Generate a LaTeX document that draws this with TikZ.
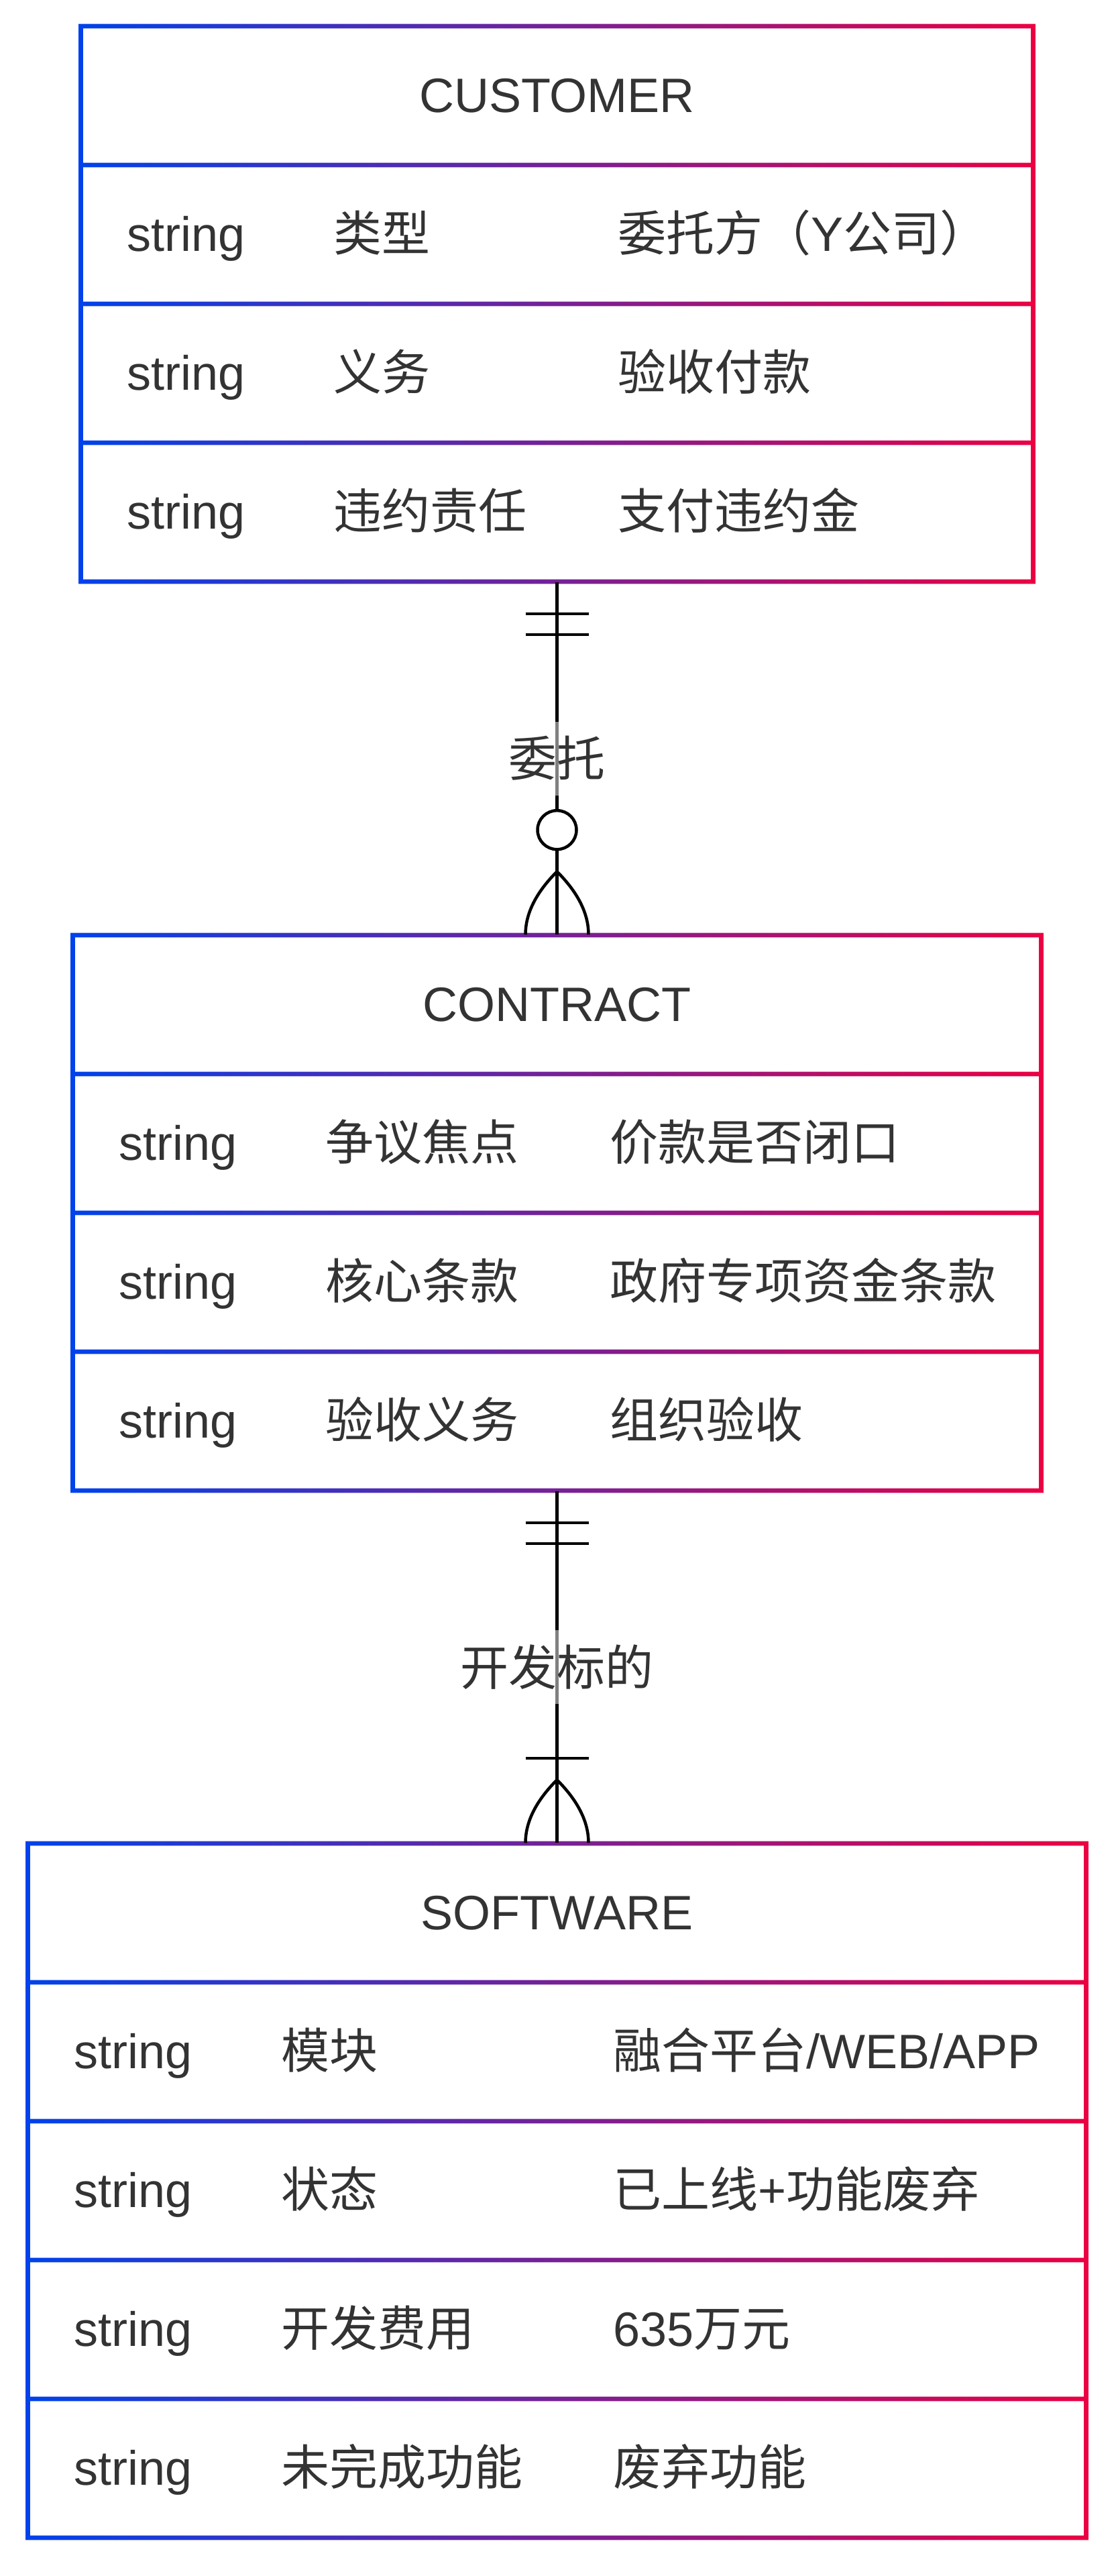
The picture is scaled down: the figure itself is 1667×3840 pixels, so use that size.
\documentclass[tikz,border=0pt]{standalone}
\usepackage{fontspec}
\setmainfont{Liberation Sans}
\newfontfamily\cjk{Noto Sans CJK SC}
\usetikzlibrary{calc}
\definecolor{gs}{HTML}{0042EB}
\definecolor{ge}{HTML}{EB0042}
\definecolor{txt}{HTML}{333333}
\tikzset{
  cell/.style={anchor=base west, inner sep=0pt, text=txt, font=\fontsize{18pt}{21pt}\selectfont},
  head/.style={anchor=base, inner sep=0pt, text=txt, font=\fontsize{18pt}{21pt}\selectfont},
  entity/.style={inner sep=0pt, draw=none},
  conn/.style={line width=1.125pt, draw=black},
  rel/.style={fill=white, fill opacity=0.5, text opacity=1, text=txt, inner xsep=2pt, inner ysep=0pt, minimum height=27.5pt, font=\cjk\fontsize{18pt}{21pt}\selectfont},
}
\newcommand\erframe[4]{%
  \begin{scope}
    \clip foreach \k in {0,...,#4} {({#1-3.375},{#3+\k*207-3.375}) rectangle ({#2+3.375},{#3+\k*207+3.375})}
      ({#1-3.375},{#3-3.375}) rectangle ({#1+3.375},{#3+#4*207+3.375})
      ({#2-3.375},{#3-3.375}) rectangle ({#2+3.375},{#3+#4*207+3.375});
    \shade[left color=gs, right color=ge] ({#1-3.375},{#3-3.375}) rectangle ({#2+3.375},{#3+#4*207+3.375});
  \end{scope}}
\begin{document}
\begin{tikzpicture}[x=0.25pt,y=-0.25pt]
\useasboundingbox[fill=white] (0,0) rectangle (1667,3840);

% entity nodes
\node[entity, minimum width=355pt, minimum height=207pt] (cust) at (830.5,453) {};
\node[entity, minimum width=361pt, minimum height=207pt] (contr) at (830.5,1808) {};
\node[entity, minimum width=394.5pt, minimum height=258.75pt] (soft) at (830.5,3265.5) {};

% frames
\erframe{120.5}{1540.5}{39}{4}
\erframe{108.5}{1552.5}{1394}{4}
\erframe{41.5}{1619.5}{2748}{5}

% CUSTOMER
\node[head] (custh) at (830.5,167.5) {CUSTOMER};
\node[cell] (c1t) at (188.5,374.5) {string};
\node[cell] (c1n) at (496.5,374.5) {\cjk 类型};
\node[cell] (c1v) at (920.5,374.5) {{\cjk 委托方（}Y{\cjk 公司）}};
\node[cell] (c2t) at (188.5,581.5) {string};
\node[cell] (c2n) at (496.5,581.5) {\cjk 义务};
\node[cell] (c2v) at (920.5,581.5) {\cjk 验收付款};
\node[cell] (c3t) at (188.5,788.5) {string};
\node[cell] (c3n) at (496.5,788.5) {\cjk 违约责任};
\node[cell] (c3v) at (920.5,788.5) {\cjk 支付违约金};

% CONTRACT
\node[head] (contrh) at (830.5,1522.5) {CONTRACT};
\node[cell] (k1t) at (176.5,1729.5) {string};
\node[cell] (k1n) at (484.5,1729.5) {\cjk 争议焦点};
\node[cell] (k1v) at (908.5,1729.5) {\cjk 价款是否闭口};
\node[cell] (k2t) at (176.5,1936.5) {string};
\node[cell] (k2n) at (484.5,1936.5) {\cjk 核心条款};
\node[cell] (k2v) at (908.5,1936.5) {\cjk 政府专项资金条款};
\node[cell] (k3t) at (176.5,2143.5) {string};
\node[cell] (k3n) at (484.5,2143.5) {\cjk 验收义务};
\node[cell] (k3v) at (908.5,2143.5) {\cjk 组织验收};

% SOFTWARE
\node[head] (softh) at (830.5,2876.5) {SOFTWARE};
\node[cell] (s1t) at (109.5,3083.5) {string};
\node[cell] (s1n) at (418.5,3083.5) {\cjk 模块};
\node[cell] (s1v) at (913.5,3083.5) {{\cjk 融合平台}/WEB/APP};
\node[cell] (s2t) at (109.5,3290.5) {string};
\node[cell] (s2n) at (418.5,3290.5) {\cjk 状态};
\node[cell] (s2v) at (913.5,3290.5) {{\cjk 已上线}+{\cjk 功能废弃}};
\node[cell] (s3t) at (109.5,3497.5) {string};
\node[cell] (s3n) at (418.5,3497.5) {\cjk 开发费用};
\node[cell] (s3v) at (913.5,3497.5) {635{\cjk 万元}};
\node[cell] (s4t) at (109.5,3704.5) {string};
\node[cell] (s4n) at (418.5,3704.5) {\cjk 未完成功能};
\node[cell] (s4v) at (913.5,3704.5) {\cjk 废弃功能};

% relationship 1: CUSTOMER ||--o{ CONTRACT
\draw[conn] (cust.south) -- (contr.north);
\node[rel] (r1) at ($(cust.south)!0.5!(contr.north)$) {委托};
\draw[conn] ($(cust.south)+(-47,47)$) -- ($(cust.south)+(47,47)$);
\draw[conn] ($(cust.south)+(-47,78)$) -- ($(cust.south)+(47,78)$);
\draw[conn, fill=white] ($(contr.north)+(0,-156)$) circle[radius=7.25pt];
\draw[conn] ($(contr.north)+(0,-94)$) .. controls ($(contr.north)+(-31.33,-62.67)$) and ($(contr.north)+(-47,-31.33)$) .. ($(contr.north)+(-47,0)$);
\draw[conn] ($(contr.north)+(0,-94)$) .. controls ($(contr.north)+(31.33,-62.67)$) and ($(contr.north)+(47,-31.33)$) .. ($(contr.north)+(47,0)$);

% relationship 2: CONTRACT ||--|{ SOFTWARE
\draw[conn] (contr.south) -- (soft.north);
\node[rel] (r2) at ($(contr.south)!0.5!(soft.north)$) {开发标的};
\draw[conn] ($(contr.south)+(-47,47)$) -- ($(contr.south)+(47,47)$);
\draw[conn] ($(contr.south)+(-47,78)$) -- ($(contr.south)+(47,78)$);
\draw[conn] ($(soft.north)+(-47,-126)$) -- ($(soft.north)+(47,-126)$);
\draw[conn] ($(soft.north)+(0,-94)$) .. controls ($(soft.north)+(-31.33,-62.67)$) and ($(soft.north)+(-47,-31.33)$) .. ($(soft.north)+(-47,0)$);
\draw[conn] ($(soft.north)+(0,-94)$) .. controls ($(soft.north)+(31.33,-62.67)$) and ($(soft.north)+(47,-31.33)$) .. ($(soft.north)+(47,0)$);
\end{tikzpicture}
\end{document}
